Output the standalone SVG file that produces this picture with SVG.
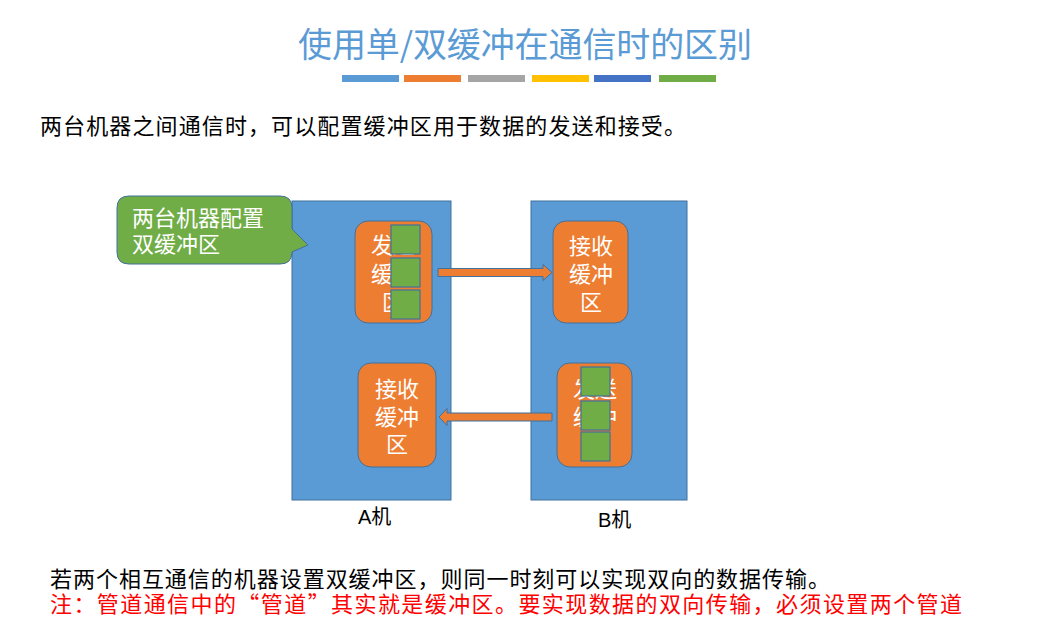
<svg xmlns="http://www.w3.org/2000/svg" width="1049" height="623" viewBox="0 0 1049 623">
<style>
.cjk{font-family:"Noto Sans CJK SC","Noto Sans",sans-serif}
.machine{fill:#5B9BD5;stroke:#41719C;stroke-width:1}
.buf{fill:#ED7D31;stroke:#41719C;stroke-width:1}
.sq{fill:#70AD47;stroke:#41719C;stroke-width:1.2}
.wt{fill:#fff;font-size:22px;text-anchor:middle}
.arrow{fill:#ED7D31;stroke:#41719C;stroke-width:1}
.lbl{font-family:"Liberation Sans","Noto Sans CJK SC",sans-serif;font-size:20px;fill:#000}
</style>
<rect width="1049" height="623" fill="#fff"/>
<g id="title">
<text class="cjk" x="525" y="57" text-anchor="middle" font-size="34" fill="#5B9BD5" textLength="454">使用单/双缓冲在通信时的区别</text>
<g>
<rect x="342" y="75" width="57" height="7" fill="#5B9BD5"/>
<rect x="404" y="75" width="57" height="7" fill="#ED7D31"/>
<rect x="468" y="75" width="57" height="7" fill="#A5A5A5"/>
<rect x="532" y="75" width="57" height="7" fill="#FFC000"/>
<rect x="594" y="75" width="57" height="7" fill="#4472C4"/>
<rect x="659" y="75" width="57" height="7" fill="#70AD47"/>
</g>
</g>
<text id="intro" class="cjk" x="40" y="134" font-size="22" fill="#000" textLength="646">两台机器之间通信时，可以配置缓冲区用于数据的发送和接受。</text>
<g id="machineA">
<rect class="machine" x="292" y="201" width="159" height="299"/>
<text class="lbl" x="358" y="524">A机</text>
</g>
<g id="machineB">
<rect class="machine" x="531" y="201" width="156" height="299"/>
<text class="lbl" x="598" y="527">B机</text>
</g>
<g id="callout">
<path d="M129 196 H280 Q292 196 292 208 V229 L308 245 L292 252 V252 Q292 264 280 264 H129 Q117 264 117 252 V208 Q117 196 129 196 Z" fill="#70AD47" stroke="#41719C" stroke-width="1"/>
<text class="cjk" font-size="22" fill="#fff"><tspan x="132" y="226">两台机器配置</tspan><tspan x="132" y="252">双缓冲区</tspan></text>
</g>
<g id="A-send">
<rect class="buf" x="355" y="221" width="77" height="102" rx="13"/>
<text class="cjk wt"><tspan x="393" y="253">发送</tspan><tspan x="393" y="282">缓冲</tspan><tspan x="393" y="310">区</tspan></text>
<rect class="sq" x="391" y="225" width="29" height="29"/>
<rect class="sq" x="391" y="258" width="29" height="29"/>
<rect class="sq" x="391" y="290" width="29" height="29"/>
</g>
<g id="B-recv">
<rect class="buf" x="553" y="221" width="75" height="102" rx="13"/>
<text class="cjk wt"><tspan x="591" y="254">接收</tspan><tspan x="591" y="282">缓冲</tspan><tspan x="591" y="310">区</tspan></text>
</g>
<g id="A-recv">
<rect class="buf" x="358" y="363" width="78" height="104" rx="13"/>
<text class="cjk wt"><tspan x="397" y="397">接收</tspan><tspan x="397" y="425">缓冲</tspan><tspan x="397" y="452">区</tspan></text>
</g>
<g id="B-send">
<rect class="buf" x="557" y="363" width="75" height="104" rx="13"/>
<text class="cjk wt"><tspan x="595" y="397">发送</tspan><tspan x="595" y="425">缓冲</tspan><tspan x="595" y="452">区</tspan></text>
<rect class="sq" x="581" y="367" width="29" height="29"/>
<rect class="sq" x="581" y="401" width="29" height="29"/>
<rect class="sq" x="581" y="432" width="29" height="29"/>
</g>
<g id="connectors">
<path class="arrow" d="M438 268.5 H543 V264.5 L552 272.5 L543 280.5 V276.5 H438 Z"/>
<path class="arrow" d="M552 413 H447 V408.5 L439 417 L447 425.5 V421 H552 Z"/>
</g>
<g id="notes">
<text class="cjk" font-size="22"><tspan x="50" y="587" fill="#000" textLength="780">若两个相互通信的机器设置双缓冲区，则同一时刻可以实现双向的数据传输。</tspan><tspan x="50" y="612" fill="#FF0000" textLength="912">注：管道通信中的“管道”其实就是缓冲区。要实现数据的双向传输，必须设置两个管道</tspan></text>
</g>
</svg>
